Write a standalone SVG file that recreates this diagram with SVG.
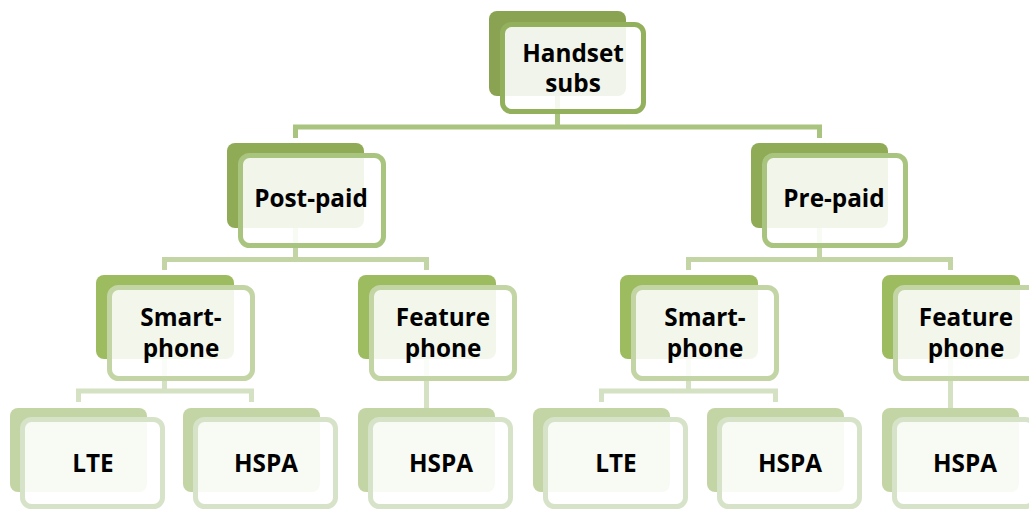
<svg xmlns="http://www.w3.org/2000/svg" width="1029" height="510" viewBox="0 0 1029 510">
<style>
.bk{stroke:none}
.fr{fill:#ffffff;fill-opacity:0.88;stroke-width:5}
.l1 .bk{fill:#8aa352}.l1 .fr{stroke:#93b15d}
.l2 .bk{fill:#8fab56}.l2 .fr{stroke:#a9c47f}
.l3 .bk{fill:#9dbb5f}.l3 .fr{stroke:#c3d5a5}
.l4 .bk{fill:#c3d5a4}.l4 .fr{stroke:#d7e3c8}
.c{fill:none;stroke-width:5;stroke-linejoin:miter}
.c1{stroke:#a9c47f}.c2{stroke:#c3d5a5}.c3{stroke:#d4e1c2}
text{font-family:"Open Sans","Liberation Sans",sans-serif;font-weight:700;font-size:24.3px;fill:#000;text-anchor:middle}
</style>
<rect width="1029" height="510" fill="#ffffff"/>
<g id="connectors">
<path class="c c1" d="M557.5 96V127M295.5 138V127H819.5V138"/>
<path class="c c2" d="M295.5 228V259.5M164.5 270V259.5H426.5V270"/>
<path class="c c2" d="M819.5 228V259.5M688.5 270V259.5H950.5V270"/>
<path class="c c3" d="M164.5 359V391M78.5 402V391H251.5V402"/>
<path class="c c3" d="M426.5 359V408"/>
<path class="c c3" d="M688.5 359V391M601.5 402V391H775.5V402"/>
<path class="c c3" d="M950.5 359V408"/>
</g>
<g id="n-handset" class="l1">
<rect class="bk" x="489" y="11" width="137" height="85" rx="8"/>
<rect class="fr" x="502.5" y="24.5" width="141" height="87" rx="9"/>
<text x="573" y="62">Handset</text><text x="573" y="92">subs</text>
</g>
<g id="n-postpaid" class="l2">
<rect class="bk" x="227" y="143" width="137" height="85" rx="8"/>
<rect class="fr" x="240.5" y="155.5" width="143" height="90" rx="9"/>
<text x="311" y="207">Post-paid</text>
</g>
<g id="n-prepaid" class="l2">
<rect class="bk" x="751" y="143" width="137" height="85" rx="8"/>
<rect class="fr" x="764.5" y="155.5" width="141" height="90" rx="9"/>
<text x="834" y="207">Pre-paid</text>
</g>
<g id="n-smart1" class="l3">
<rect class="bk" x="96" y="275" width="138" height="84" rx="8"/>
<rect class="fr" x="109.5" y="287.5" width="143" height="91" rx="9"/>
<text x="181" y="326">Smart-</text><text x="181" y="357">phone</text>
</g>
<g id="n-feature1" class="l3">
<rect class="bk" x="358" y="275" width="138" height="84" rx="8"/>
<rect class="fr" x="371.5" y="287.5" width="143" height="91" rx="9"/>
<text x="443" y="326">Feature</text><text x="443" y="357">phone</text>
</g>
<g id="n-smart2" class="l3">
<rect class="bk" x="620" y="275" width="138" height="84" rx="8"/>
<rect class="fr" x="633.5" y="287.5" width="143" height="91" rx="9"/>
<text x="705" y="326">Smart-</text><text x="705" y="357">phone</text>
</g>
<g id="n-feature2" class="l3">
<rect class="bk" x="882" y="275" width="138" height="84" rx="8"/>
<rect class="fr" x="895.5" y="287.5" width="143" height="91" rx="9"/>
<text x="966" y="326">Feature</text><text x="966" y="357">phone</text>
</g>
<g id="n-lte1" class="l4">
<rect class="bk" x="10" y="408" width="137" height="84" rx="8"/>
<rect class="fr" x="22.5" y="419.5" width="140" height="87" rx="9"/>
<text x="93" y="472">LTE</text>
</g>
<g id="n-hspa1" class="l4">
<rect class="bk" x="183" y="408" width="137" height="84" rx="8"/>
<rect class="fr" x="195.5" y="419.5" width="140" height="87" rx="9"/>
<text x="266" y="472">HSPA</text>
</g>
<g id="n-hspa2" class="l4">
<rect class="bk" x="358" y="408" width="137" height="84" rx="8"/>
<rect class="fr" x="370.5" y="419.5" width="140" height="87" rx="9"/>
<text x="441" y="472">HSPA</text>
</g>
<g id="n-lte2" class="l4">
<rect class="bk" x="533" y="408" width="137" height="84" rx="8"/>
<rect class="fr" x="545.5" y="419.5" width="140" height="87" rx="9"/>
<text x="616" y="472">LTE</text>
</g>
<g id="n-hspa3" class="l4">
<rect class="bk" x="707" y="408" width="137" height="84" rx="8"/>
<rect class="fr" x="719.5" y="419.5" width="140" height="87" rx="9"/>
<text x="790" y="472">HSPA</text>
</g>
<g id="n-hspa4" class="l4">
<rect class="bk" x="882" y="408" width="137" height="84" rx="8"/>
<rect class="fr" x="894.5" y="419.5" width="140" height="87" rx="9"/>
<text x="965" y="472">HSPA</text>
</g>
</svg>
